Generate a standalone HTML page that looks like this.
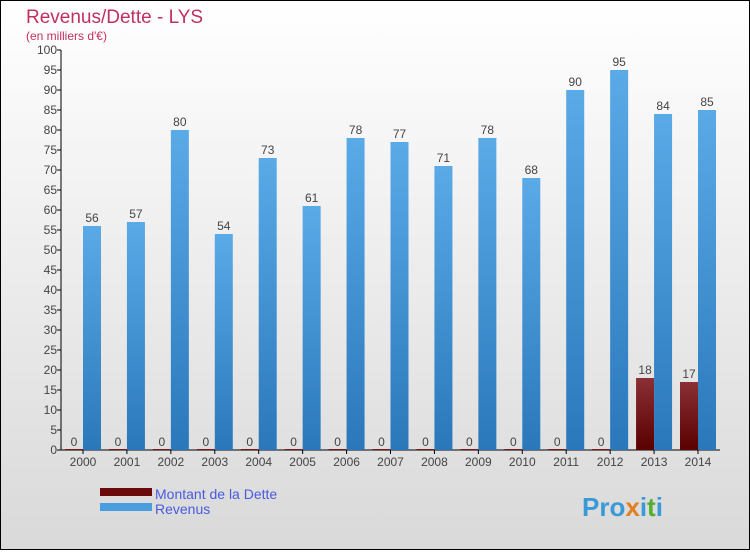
<!DOCTYPE html>
<html><head><meta charset="utf-8"><style>
body{margin:0}
svg text{font-family:"Liberation Sans",sans-serif}
</style></head><body>
<svg id="c" width="750" height="550" xmlns="http://www.w3.org/2000/svg">
<defs>
<linearGradient id="bg" x1="0" y1="0" x2="0" y2="1"><stop offset="0" stop-color="#ffffff"/><stop offset="1" stop-color="#d9d9d9"/></linearGradient>
<linearGradient id="rev" x1="0" y1="0" x2="0" y2="1"><stop offset="0" stop-color="#5aaae8"/><stop offset="1" stop-color="#2a78ba"/></linearGradient>
<linearGradient id="debt" x1="0" y1="0" x2="0" y2="1"><stop offset="0" stop-color="#8a3036"/><stop offset="1" stop-color="#5a0000"/></linearGradient>
</defs>
<rect x="0.5" y="0.5" width="749" height="549" fill="url(#bg)" stroke="#000"/>
<text x="26" y="23" font-size="19" fill="#c03060">Revenus/Dette - LYS</text>
<text x="26" y="40" font-size="12" fill="#c03060">(en milliers d'€)</text>
<g id="axes"></g>
<g id="bars"></g>
<rect x="100" y="488" width="52" height="8" fill="#6a0a0a"/>
<text x="155" y="499" font-size="14" fill="#4a5ae0">Montant de la Dette</text>
<rect x="100" y="503" width="52" height="8" fill="#4a9ee0"/>
<text x="155" y="514" font-size="14" fill="#4a5ae0">Revenus</text>
<text x="582" y="516" font-size="26" font-weight="bold" fill="#3a9ad8">Pro<tspan fill="#e08020">x</tspan>i<tspan fill="#50b030">t</tspan>i</text>
</svg>
<script>
const years=["2000","2001","2002","2003","2004","2005","2006","2007","2008","2009","2010","2011","2012","2013","2014"];
const debt=[0,0,0,0,0,0,0,0,0,0,0,0,0,18,17];
const revenus=[56,57,80,54,73,61,78,77,71,78,68,90,95,84,85];
const yTicks=[0,5,10,15,20,25,30,35,40,45,50,55,60,65,70,75,80,85,90,95,100];
const NS="http://www.w3.org/2000/svg";
const y=v=>450-v*4;
const x=i=>83+i*(698-83)/14;
const ax=document.getElementById('axes'),bg=document.getElementById('bars');
function mk(p,tag,at,txt){const e=document.createElementNS(NS,tag);for(const k in at)e.setAttribute(k,at[k]);if(txt!=null)e.textContent=txt;p.appendChild(e);return e;}
let l=mk(ax,'line',{x1:61,y1:y(100),x2:61,y2:450,stroke:'#000'});


l=mk(ax,'line',{x1:61,y1:450,x2:720,y2:450,stroke:'#000'});


yTicks.forEach(t=>{
 const k=mk(ax,'line',{x1:57,y1:y(t),x2:61,y2:y(t),stroke:'#000'});
 
 
 const s=mk(ax,'text',{x:57,y:y(t)+4,'font-size':12,'text-anchor':'end',fill:'#444'},t);
 
 
});
years.forEach((yr,i)=>{
 const cx=x(i);
 const k=mk(ax,'line',{x1:cx,y1:450,x2:cx,y2:454,stroke:'#000'});
 
 
 const s=mk(ax,'text',{x:cx,y:466,'font-size':12,'text-anchor':'middle',fill:'#444'},yr);
 
 
 const dh=Math.max(debt[i]*4,1);
 const d=mk(bg,'rect',{x:cx-18,y:450-dh,width:18,height:dh,fill:'url(#debt)'});
 
 
 const dl=mk(bg,'text',{x:cx-9,y:y(debt[i])-4,'font-size':12,'text-anchor':'middle',fill:'#444'},debt[i]);
 
 
 const r=mk(bg,'rect',{x:cx,y:y(revenus[i]),width:18,height:revenus[i]*4,fill:'url(#rev)'});
 
 
 const rl=mk(bg,'text',{x:cx+9,y:y(revenus[i])-4,'font-size':12,'text-anchor':'middle',fill:'#444'},revenus[i]);
 
 
});
</script>
</body></html>
